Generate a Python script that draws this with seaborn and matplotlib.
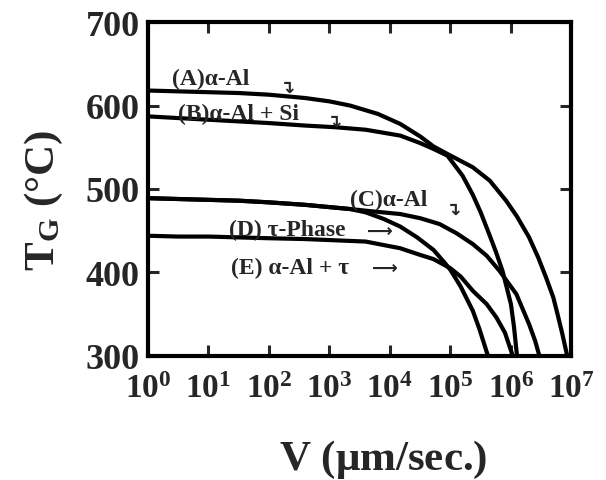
import numpy as np
import pandas as pd
import matplotlib
matplotlib.use("Agg")
import matplotlib.pyplot as plt
import seaborn as sns

# ---- data (log10 of V in um/sec, and growth temperature in degC) ----
logV_A = [0, 0.5, 1, 1.5, 2, 2.6, 3.0, 3.34, 3.8, 4.17, 4.5, 4.72, 4.95, 5.37, 5.65, 5.92, 6.1, 6.3, 6.45, 6.58, 6.7, 6.77, 6.85, 6.93]
T_A    = [618, 617, 616, 615, 613, 609, 605, 600, 590, 578, 563, 551, 542, 526, 510, 486, 467, 442, 418, 394, 370, 350, 326, 300]

logV_B = [0, 0.5, 1, 1.5, 2, 2.6, 3.1, 3.6, 4.17, 4.5, 4.72, 4.95, 5.2, 5.37, 5.5, 5.64, 5.75, 5.86, 6.0, 6.05, 6.1]
T_B    = [587, 585, 583, 581, 579, 576, 574, 571, 564, 555, 548, 540, 516, 493, 472, 446, 425, 402, 362, 335, 300]

logV_C = [0, 0.5, 1, 1.5, 2, 2.6, 3.34, 3.6, 4.17, 4.5, 4.82, 5.1, 5.37, 5.6, 5.81, 6.09, 6.3, 6.4, 6.47]
T_C    = [489, 488, 487, 486, 484, 481, 476, 474, 470, 465, 458, 447, 434, 420, 402, 374, 338, 318, 300]

logV_D = [0, 0.5, 1, 1.5, 2, 2.6, 3.34, 3.6, 3.9, 4.17, 4.45, 4.72, 4.9, 5.0, 5.17, 5.37, 5.48, 5.62]
T_D    = [489, 488, 487, 486, 484, 481, 476, 472, 464, 455, 442, 427, 412, 403, 383, 354, 332, 300]

logV_E = [0, 0.5, 1, 1.5, 2, 2.6, 3.6, 4.17, 4.5, 4.72, 5.0, 5.17, 5.37, 5.6, 5.76, 5.9, 6.03]
T_E    = [444, 443, 443, 442, 441, 440, 437, 429, 421, 416, 405, 395, 378, 362, 346, 328, 300]

curve_names = ["A", "B", "C", "D", "E"]
labels = ["(A)\u03b1-Al", "(B)\u03b1-Al + Si", "(C)\u03b1-Al", "(D) \u03c4-Phase", "(E) \u03b1-Al + \u03c4"]
x_ticks_exp = [0, 1, 2, 3, 4, 5, 6, 7]
y_ticks = [300, 400, 500, 600, 700]

frames = []
for name, lv, t in zip(curve_names, [logV_A, logV_B, logV_C, logV_D, logV_E],
                       [T_A, T_B, T_C, T_D, T_E]):
    frames.append(pd.DataFrame({"V": np.power(10.0, lv), "T": t, "curve": name}))
df = pd.concat(frames, ignore_index=True)

sns.set_style("ticks")
plt.rcParams["font.family"] = ["Liberation Serif", "DejaVu Sans"]
plt.rcParams["font.weight"] = "bold"
plt.rcParams["mathtext.fontset"] = "custom"
plt.rcParams["mathtext.rm"] = "Liberation Serif:bold"
plt.rcParams["mathtext.bf"] = "Liberation Serif:bold"
plt.rcParams["mathtext.it"] = "Liberation Serif:bold"

fig = plt.figure(figsize=(6.06, 4.81), dpi=100)
ax = fig.add_axes([0.244, 0.258, 0.699, 0.694])

sns.lineplot(data=df, x="V", y="T", hue="curve", units="curve", estimator=None,
             palette=["black"] * 5, linewidth=3.0, legend=False, ax=ax, sort=False)

ax.set_xscale("log")
ax.set_xlim(1, 1e7)
ax.set_ylim(300, 700)
ax.set_xticks([10.0 ** e for e in x_ticks_exp])
ax.set_xticklabels([r"$10^{%d}$" % e for e in x_ticks_exp])
ax.xaxis.set_minor_locator(matplotlib.ticker.NullLocator())
ax.set_yticks(y_ticks)
ax.set_yticklabels([str(v) for v in y_ticks])

ax.tick_params(axis="both", which="major", direction="in", length=8, width=2.2,
               top=True, right=True)
ax.tick_params(axis="y", labelsize=26, pad=6)
ax.tick_params(axis="x", labelsize=24, pad=12)
for lab in ax.get_xticklabels() + ax.get_yticklabels():
    lab.set_fontweight("bold")
for s in ax.spines.values():
    s.set_linewidth(3)
    s.set_color("black")

ax.set_xlabel(r"V ($\mathrm{\mu}$m/sec.)", fontsize=31, fontweight="bold")
ax.xaxis.label.set_va("center")
ax.xaxis.set_label_coords(0.556, -0.31)
ax.set_ylabel(r"$\mathrm{T_G}$ (°C)", fontsize=31, fontweight="bold")
ax.yaxis.label.set_va("center")
ax.yaxis.set_label_coords(-0.245, 0.47)

# curve labels
fs = 17
ax.text(2.5, 632, labels[0], fontsize=fs, fontweight="bold", va="center", ha="left")
ax.text(3.2, 591, labels[1], fontsize=fs, fontweight="bold", va="center", ha="left")
ax.text(2200, 488, labels[2], fontsize=fs, fontweight="bold", va="center", ha="left")
ax.text(22, 452, labels[3], fontsize=fs, fontweight="bold", va="center", ha="left")
ax.text(24, 406, labels[4], fontsize=fs, fontweight="bold", va="center", ha="left")
arrow_kw = dict(fontsize=13, fontweight="bold", va="center", ha="left",
                family=["DejaVu Sans"])
ax.text(150, 622, "\u21b4", **arrow_kw)
ax.text(900, 582, "\u21b4", **arrow_kw)
ax.text(85000, 476, "\u21b4", **arrow_kw)
ax.text(4200, 450, "\u27f6", **arrow_kw)
ax.text(5100, 405, "\u27f6", **arrow_kw)

fig.savefig("out.png", dpi=100)
